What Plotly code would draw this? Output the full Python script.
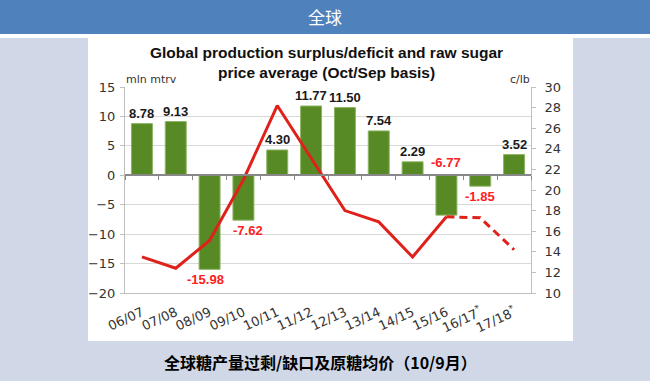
import plotly.graph_objects as go

# ---------------- data ----------------
categories = ["06/07", "07/08", "08/09", "09/10", "10/11", "11/12",
              "12/13", "13/14", "14/15", "15/16", "16/17*", "17/18*"]
balance = [8.78, 9.13, -15.98, -7.62, 4.30, 11.77, 11.50, 7.54, 2.29, -6.77, -1.85, 3.52]
price = [13.5, 12.4, 15.1, 21.0, 28.2, 23.1, 18.0, 16.9, 13.5, 17.4, 17.3, 14.2]
left_ticks = [-20, -15, -10, -5, 0, 5, 10, 15]
right_ticks = [10, 12, 14, 16, 18, 20, 22, 24, 26, 28, 30]

header_text = "全球"
chart_title = "Global production surplus/deficit and raw sugar<br>price average (Oct/Sep basis)"
left_unit = "mln mtrv"
right_unit = "c/lb"
caption = "全球糖产量过剩/缺口及原糖均价（10/9月）"

# ---------------- layout geometry (pixels) ----------------
W, H = 650, 381
L, R, T, B = 125, 531, 87, 293


def px(x):
    return (x - L) / (R - L)


def py(y):
    return (B - y) / (B - T)


GREEN = "#578A24"
GREEN_EDGE = "#8DB563"
RED = "#E0211B"
BG = "#D0D8E8"
HEADER = "#4F81BD"
TICKFONT = dict(family="DejaVu Sans", size=13, color="#333333")

ticktext = [c.replace("*", "<sup>*</sup>") for c in categories]

# forecast split: first category with '*'
first_fc = next(i for i, c in enumerate(categories) if c.endswith("*"))
solid_x = categories[:first_fc]
solid_y = price[:first_fc]
dash_x = categories[first_fc - 1:]
dash_y = price[first_fc - 1:]

fig = go.Figure()

fig.add_trace(go.Bar(
    x=categories, y=balance, width=0.62,
    marker=dict(color=GREEN, line=dict(color=GREEN_EDGE, width=1)),
    hoverinfo="skip", showlegend=False, yaxis="y", xaxis="x",
))

fig.add_trace(go.Scatter(
    x=solid_x, y=solid_y, mode="lines",
    line=dict(color=RED, width=3), yaxis="y2", xaxis="x",
    showlegend=False, hoverinfo="skip",
))
fig.add_trace(go.Scatter(
    x=dash_x, y=dash_y, mode="lines",
    line=dict(color=RED, width=3, dash="8px,5px"), yaxis="y2", xaxis="x",
    showlegend=False, hoverinfo="skip",
))
# invisible trace to carry the zero-line category axis
fig.add_trace(go.Scatter(
    x=categories, y=[0] * len(categories), mode="markers",
    marker=dict(opacity=0), xaxis="x2", yaxis="y",
    showlegend=False, hoverinfo="skip",
))

annotations = []
label_xshift = {"08/09": -4, "09/10": 5}
LABEL_FONT = "Liberation Sans, Arial"
for c, v in zip(categories, balance):
    xs = label_xshift.get(c, 0)
    if v >= 0:
        annotations.append(dict(x=c, y=v, xref="x", yref="y", text=f"{v:.2f}",
                                showarrow=False, yanchor="bottom", yshift=1, xshift=xs,
                                font=dict(family=LABEL_FONT, size=13,
                                          color="#1a1a1a", weight="bold")))
    elif c == "15/16":
        annotations.append(dict(x=c, y=0, xref="x", yref="y", text=f"{v:.2f}",
                                showarrow=False, yanchor="bottom", yshift=3, xshift=xs,
                                font=dict(family=LABEL_FONT, size=13,
                                          color="#FF2020", weight="bold")))
    else:
        annotations.append(dict(x=c, y=v, xref="x", yref="y", text=f"{v:.2f}",
                                showarrow=False, yanchor="top", yshift=-1, xshift=xs,
                                font=dict(family=LABEL_FONT, size=13,
                                          color="#FF2020", weight="bold")))

# header title
annotations.append(dict(x=px(325), y=py(17), xref="paper", yref="paper", text=header_text,
                        showarrow=False, xanchor="center", yanchor="middle",
                        font=dict(family="Noto Sans CJK SC", size=17, color="white")))
# chart title
annotations.append(dict(x=px(326), y=py(62), xref="paper", yref="paper", text=chart_title,
                        showarrow=False, xanchor="center", yanchor="middle",
                        font=dict(family=LABEL_FONT, size=15.5, color="#111111",
                                  weight="bold")))
# units
annotations.append(dict(x=px(124), y=py(79), xref="paper", yref="paper", text=left_unit,
                        showarrow=False, xanchor="left", yanchor="middle",
                        font=dict(family="DejaVu Sans", size=11, color="#333333")))
annotations.append(dict(x=px(532), y=py(79), xref="paper", yref="paper", text=right_unit,
                        showarrow=False, xanchor="right", yanchor="middle",
                        font=dict(family="DejaVu Sans", size=11, color="#333333")))
# caption
annotations.append(dict(x=px(320), y=py(362), xref="paper", yref="paper", text=caption,
                        showarrow=False, xanchor="center", yanchor="middle",
                        font=dict(family="Noto Sans CJK SC", size=16, color="#000000",
                                  weight="bold")))

shapes = [
    # white strip under header
    dict(type="rect", xref="paper", yref="paper", x0=px(0), x1=px(W), y0=py(38), y1=py(34),
         fillcolor="white", line=dict(width=0), layer="below"),
    # white chart panel
    dict(type="rect", xref="paper", yref="paper", x0=px(88), x1=px(573), y0=py(341), y1=py(34),
         fillcolor="white", line=dict(width=0), layer="below"),
    # header bar
    dict(type="rect", xref="paper", yref="paper", x0=px(0), x1=px(W), y0=py(34), y1=py(0),
         fillcolor=HEADER, line=dict(width=0), layer="below"),
]

ymin, ymax = left_ticks[0], left_ticks[-1]

fig.update_layout(
    template="none",
    width=W, height=H, autosize=False,
    margin=dict(l=L, r=W - R, t=T, b=H - B, pad=0, autoexpand=False),
    paper_bgcolor=BG, plot_bgcolor="white",
    showlegend=False,
    annotations=annotations,
    shapes=shapes,
    xaxis=dict(
        type="category", categoryorder="array", categoryarray=categories,
        tickvals=categories, ticktext=ticktext, tickangle=-25,
        tickfont=TICKFONT, showline=True, linecolor="#BFBFBF", linewidth=1,
        ticks="outside", ticklen=6, tickcolor="rgba(0,0,0,0)",
        showgrid=False, zeroline=False, range=[-0.5, len(categories) - 0.5],
        automargin=False,
    ),
    xaxis2=dict(
        type="category", overlaying="x", matches="x", anchor="free",
        position=(0 - ymin) / (ymax - ymin), side="bottom",
        showline=True, linecolor="#888888", linewidth=1.5,
        ticks="outside", tickson="boundaries", ticklen=4, tickcolor="#888888",
        showticklabels=False, showgrid=False, zeroline=False, automargin=False,
    ),
    yaxis=dict(
        range=[ymin, ymax], tickvals=left_ticks, tickfont=TICKFONT,
        showgrid=True, gridcolor="#D9D9D9", gridwidth=1,
        showline=True, linecolor="#BFBFBF", linewidth=1,
        ticks="outside", ticklen=4, tickcolor="#BFBFBF",
        zeroline=False, ticklabelstandoff=2, automargin=False,
    ),
    yaxis2=dict(
        range=[right_ticks[0], right_ticks[-1]], tickvals=right_ticks, tickfont=TICKFONT,
        overlaying="y", side="right", showgrid=False,
        showline=True, linecolor="#BFBFBF", linewidth=1,
        ticks="outside", ticklen=4, tickcolor="#BFBFBF",
        zeroline=False, ticklabelstandoff=6, automargin=False,
    ),
)

fig.write_html(
    "out.html",
    config={"displayModeBar": False},
    post_script="document.body.style.margin='0';document.body.style.overflow='hidden';",
)
